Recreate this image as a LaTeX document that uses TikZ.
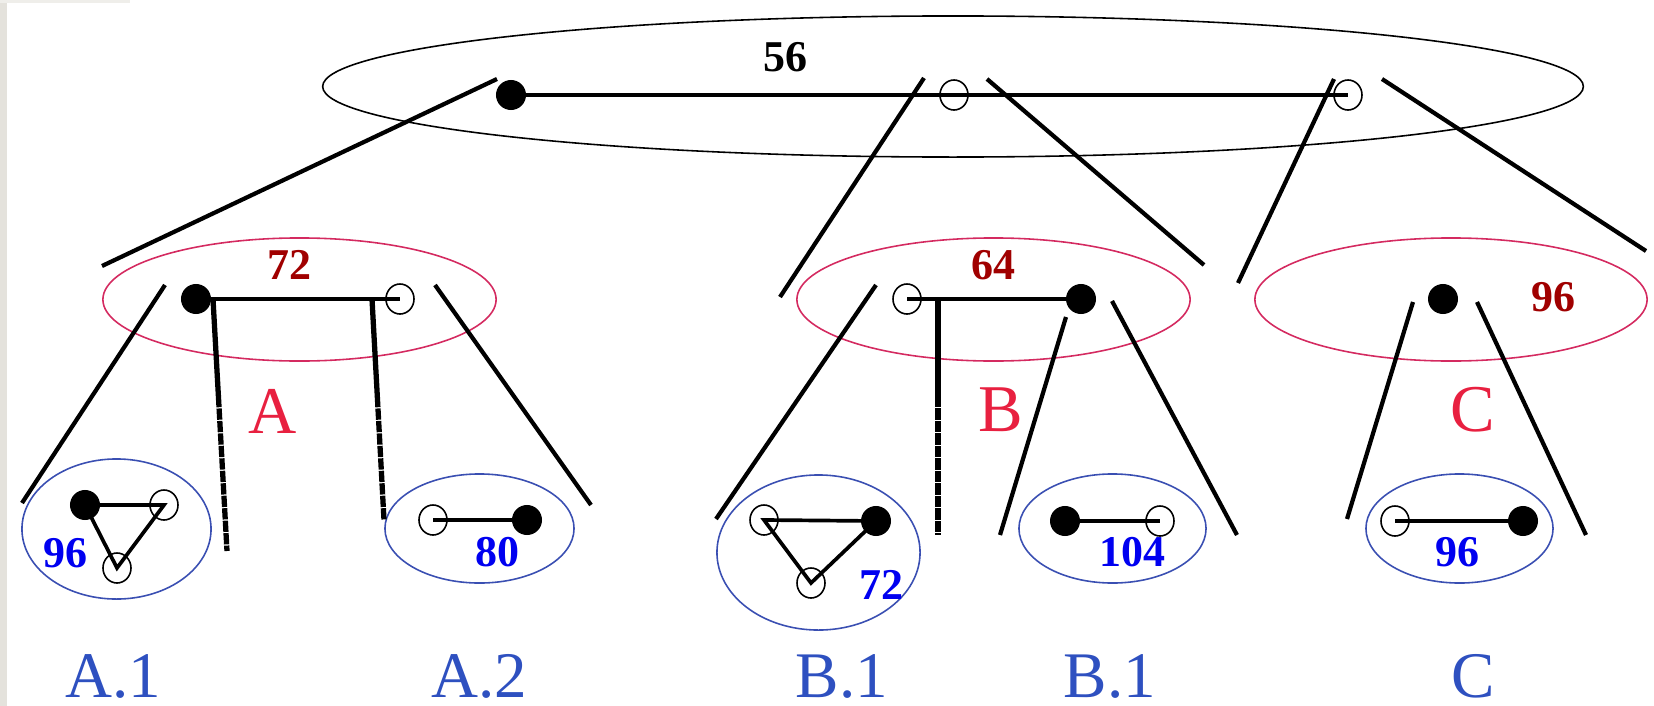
\documentclass[tikz,border=0pt]{standalone}
\usepackage{fontspec}
\setmainfont{Liberation Serif}
\usepackage{xcolor}
\usepackage{tikz}
\usetikzlibrary{shapes.geometric}
\definecolor{setred}{HTML}{D42A60}
\definecolor{setblue}{HTML}{3A4FB2}
\definecolor{numred}{HTML}{A00000}
\definecolor{numblue}{HTML}{0000F0}
\definecolor{lblred}{HTML}{E82040}
\definecolor{lblblue}{HTML}{2E50C0}
\definecolor{edgegrey}{HTML}{E4E2DC}

\begin{document}
\begin{tikzpicture}[
  x=0.01cm, y=-0.01cm,
  blackset/.style={draw=black, ellipse, line width=0.45pt, inner sep=0},
  redset/.style={draw=setred, ellipse, line width=0.45pt, inner sep=0},
  blueset/.style={draw=setblue, ellipse, line width=0.45pt, inner sep=0},
  fulldot/.style={circle, fill=black, inner sep=0, minimum size=0.3cm},
  opendot/.style={ellipse, draw, line width=0.45pt, inner sep=0,
                  minimum width=0.28cm, minimum height=0.3cm},
  link/.style={line width=1.05pt},
  cone/.style={line width=1.2pt},
  split/.style={line width=1.5pt},
  gapdash/.style={dash pattern=on 3.2pt off 0.35pt},
  blacknum/.style={inner sep=0, font=\fontsize{12.5}{14}\selectfont\bfseries},
  rednum/.style={blacknum, text=numred},
  bluenum/.style={blacknum, text=numblue},
  redlbl/.style={inner sep=0, text=lblred, font=\fontsize{19}{22}\selectfont},
  bluelbl/.style={inner sep=0, text=lblblue, font=\fontsize{18.5}{22}\selectfont}
]
  \useasboundingbox (0,0) rectangle (1654,706);
  \fill[edgegrey] (0,0) rectangle (7,706);
  \fill[edgegrey!60] (0,0) rectangle (130,3);

  % sets
  \node[blackset, minimum width=12.6cm, minimum height=1.41cm] (top) at (953,86.5) {};
  \node[redset, minimum width=3.93cm, minimum height=1.23cm] (setA) at (299.5,299.5) {};
  \node[redset, minimum width=3.93cm, minimum height=1.23cm] (setB) at (993.5,299.5) {};
  \node[redset, minimum width=3.92cm, minimum height=1.23cm] (setC) at (1451,299.5) {};
  \node[blueset, minimum width=1.89cm, minimum height=1.40cm] (setA1) at (116.5,529) {};
  \node[blueset, minimum width=1.89cm, minimum height=1.09cm] (setA2) at (479.5,528.5) {};
  \node[blueset, minimum width=2.03cm, minimum height=1.55cm] (setB1) at (818.5,552.5) {};
  \node[blueset, minimum width=1.87cm, minimum height=1.09cm] (setB2) at (1112.5,528.5) {};
  \node[blueset, minimum width=1.87cm, minimum height=1.09cm] (setC1) at (1459.5,528.5) {};

  % vertices
  \node[fulldot] (t1) at (511,95) {};
  \node[opendot] (t2) at (954,95) {};
  \node[opendot] (t3) at (1348,95) {};
  \node[fulldot] (a1) at (196,299) {};
  \node[opendot] (a2) at (400,299) {};
  \node[opendot] (b1) at (907,299) {};
  \node[fulldot] (b2) at (1081,299) {};
  \node[fulldot] (c1) at (1443,299) {};
  \node[fulldot] (a11) at (85,505) {};
  \node[opendot] (a12) at (164,505) {};
  \node[opendot] (a13) at (117,568) {};
  \node[opendot] (a21) at (433,520) {};
  \node[fulldot] (a22) at (527,520) {};
  \node[opendot] (b11) at (764,520) {};
  \node[fulldot] (b12) at (876,521) {};
  \node[opendot] (b13) at (811,583) {};
  \node[fulldot] (b21) at (1065,521) {};
  \node[opendot] (b22) at (1160,521) {};
  \node[opendot] (c11) at (1395,521) {};
  \node[fulldot] (c12) at (1523,521) {};

  \draw[link] (t1.center) -- (t3.center);
  \draw[link] (a1.center) -- (a2.center);
  \draw[link] (b1.center) -- (b2.center);
  \draw[link] (a11.center) -- (a12.center) -- (a13.center) -- cycle;
  \draw[link] (a21.center) -- (a22.center);
  \draw[link] (b11.center) -- (b12.center) -- (b13.center) -- cycle;
  \draw[link] (b21.center) -- (b22.center);
  \draw[link] (c11.center) -- (c12.center);

  % cones
  \coordinate (tAs) at (497,79);   \coordinate (tAe) at (102,266);
  \coordinate (tBs) at (924,78);   \coordinate (tBe) at (780,297);
  \coordinate (tBs2) at (987,79);  \coordinate (tBe2) at (1204,265);
  \coordinate (tCs) at (1334,79);  \coordinate (tCe) at (1238,283);
  \coordinate (tCs2) at (1382,79); \coordinate (tCe2) at (1646,251);
  \coordinate (aLs) at (165,285);  \coordinate (aLe) at (22,503);
  \coordinate (aRs) at (435,285);  \coordinate (aRe) at (591,505);
  \coordinate (bLs) at (876,285);  \coordinate (bLe) at (716,519);
  \coordinate (bMs) at (1066,317); \coordinate (bMe) at (1000,535);
  \coordinate (bRs) at (1112,301); \coordinate (bRe) at (1237,535);
  \coordinate (cLs) at (1413,302); \coordinate (cLe) at (1347,519);
  \coordinate (cRs) at (1477,302); \coordinate (cRe) at (1586,535);
  \foreach \s/\e in {tAs/tAe, tBs/tBe, tBs2/tBe2, tCs/tCe, tCs2/tCe2,
                     aLs/aLe, aRs/aRe, bLs/bLe, bMs/bMe, bRs/bRe, cLs/cLe, cRs/cRe}
    \draw[cone] (\s) -- (\e);

  \coordinate (av1) at (213,299); \coordinate (av1m) at (218.4,396); \coordinate (av1e) at (227,551);
  \coordinate (av2) at (372,299); \coordinate (av2m) at (377.3,396); \coordinate (av2e) at (384,520);
  \coordinate (bv) at (938,299);  \coordinate (bvm) at (938,396);    \coordinate (bve) at (938,535);
  \draw[split] (av1) -- (av1m);
  \draw[split, gapdash] (av1m) -- (av1e);
  \draw[split] (av2) -- (av2m);
  \draw[split, gapdash] (av2m) -- (av2e);
  \draw[split] (bv) -- (bvm);
  \draw[split, gapdash] (bvm) -- (bve);

  % labels
  \node[blacknum] (n56) at (785,57) {56};
  \node[rednum] (nA) at (289,265) {72};
  \node[rednum] (nB) at (993,265) {64};
  \node[rednum] (nC) at (1553,297) {96};
  \node[bluenum] (nA1) at (65,553) {96};
  \node[bluenum] (nA2) at (497,552) {80};
  \node[bluenum] (nB1) at (881,585) {72};
  \node[bluenum] (nB2) at (1132,552) {104};
  \node[bluenum] (nC1) at (1457,552) {96};
  \node[redlbl] (lA) at (273,411) {A};
  \node[redlbl] (lB) at (1001,410) {B};
  \node[redlbl] (lC) at (1473,410) {C};
  \node[bluelbl] (lA1) at (113,676) {A.1};
  \node[bluelbl] (lA2) at (479,676) {A.2};
  \node[bluelbl] (lB1) at (842,676) {B.1};
  \node[bluelbl] (lB2) at (1110,676) {B.1};
  \node[bluelbl] (lC1) at (1473,676) {C};
\end{tikzpicture}
\end{document}
